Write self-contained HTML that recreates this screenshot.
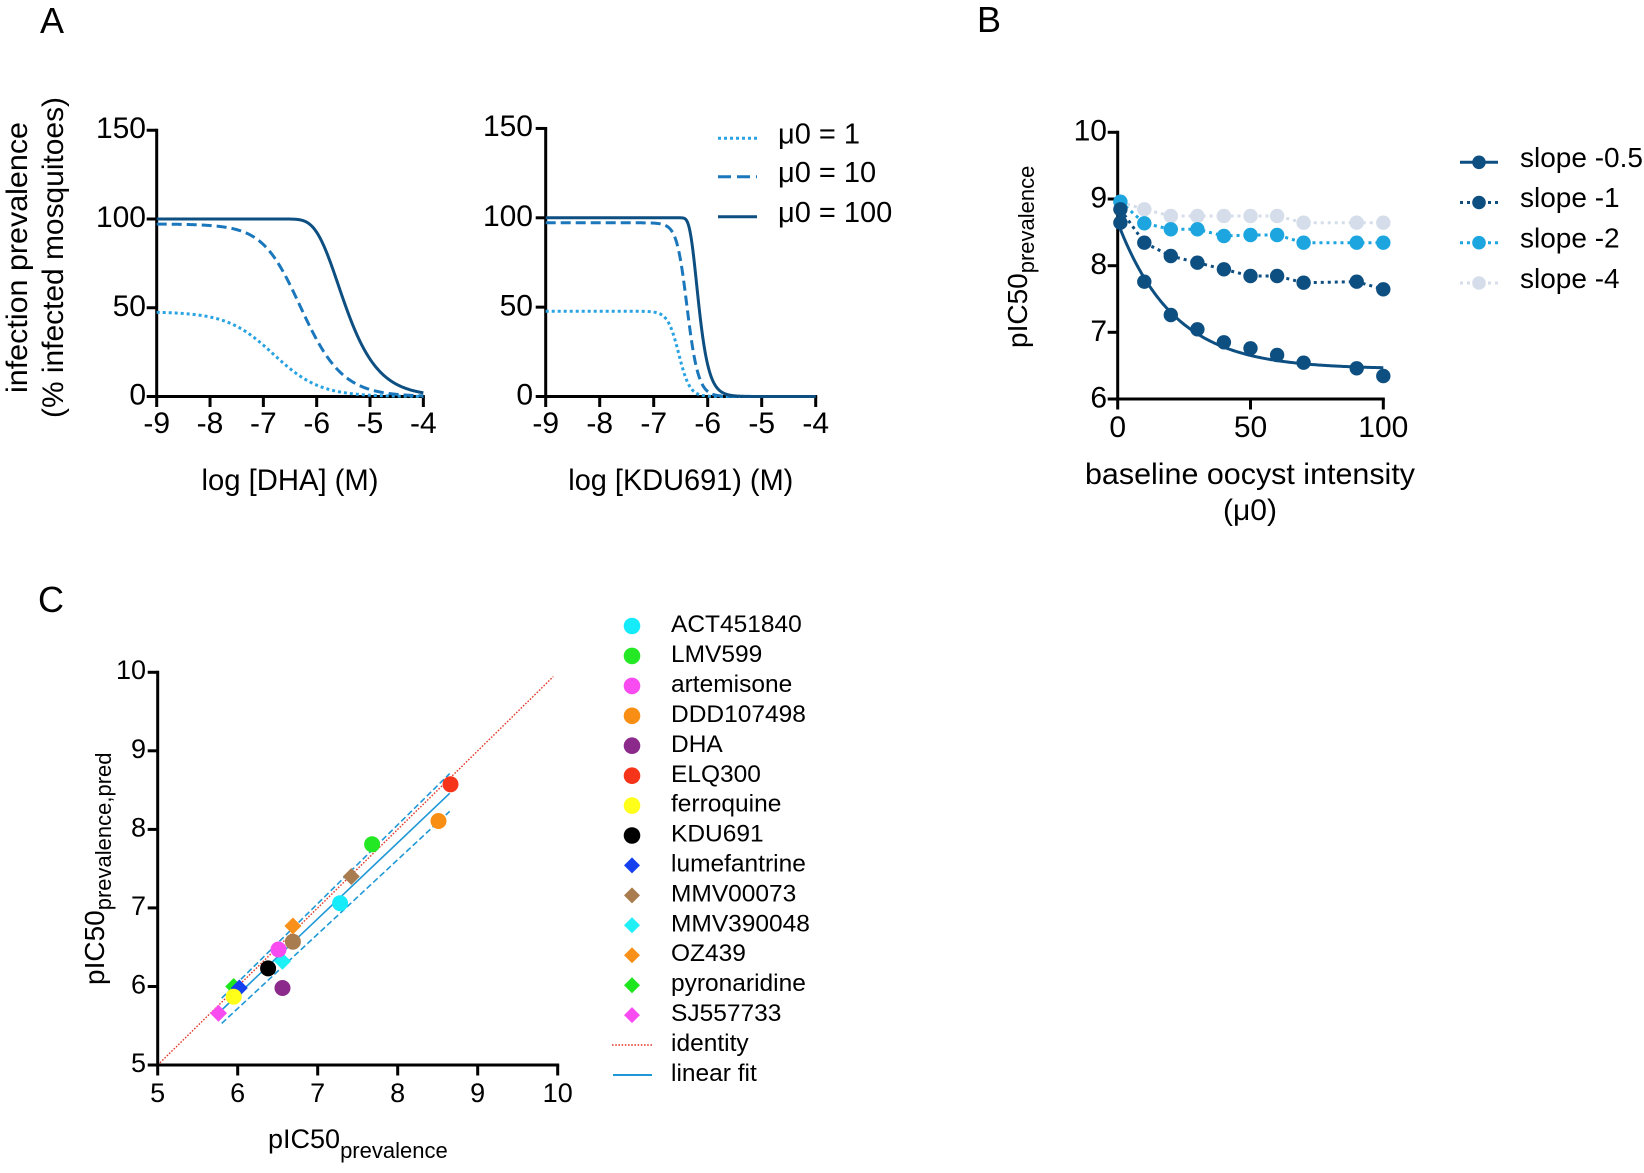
<!DOCTYPE html>
<html>
<head>
<meta charset="utf-8">
<style>
html,body{margin:0;padding:0;background:#fff;}
svg{display:block;}
text{font-family:"Liberation Sans",sans-serif;fill:#000;}
</style>
</head>
<body>
<svg id="fig" width="1644" height="1173" viewBox="0 0 1644 1173" xmlns="http://www.w3.org/2000/svg">
<rect width="1644" height="1173" fill="#fff"/>

<!-- Panel letters -->
<text x="40" y="33" font-size="36">A</text>
<text x="977" y="32" font-size="36">B</text>
<text x="38" y="612" font-size="36">C</text>

<!-- ================= PANEL A LEFT ================= -->
<text transform="translate(27,257.5) rotate(-90)" text-anchor="middle" font-size="30" textLength="271" lengthAdjust="spacingAndGlyphs">infection prevalence</text>
<text transform="translate(63,257.5) rotate(-90)" text-anchor="middle" font-size="30" textLength="321" lengthAdjust="spacingAndGlyphs">(% infected mosquitoes)</text>

<g stroke="#000" stroke-width="3" fill="none">
  <line x1="156.7" y1="128.8" x2="156.7" y2="398"/>
  <line x1="155.2" y1="396.5" x2="424.8" y2="396.5"/>
  <line x1="146.7" y1="130.25" x2="156.7" y2="130.25"/>
  <line x1="146.7" y1="219" x2="156.7" y2="219"/>
  <line x1="146.7" y1="307.75" x2="156.7" y2="307.75"/>
  <line x1="146.7" y1="396.5" x2="156.7" y2="396.5"/>
  <line x1="156.7" y1="396.5" x2="156.7" y2="407"/>
  <line x1="210.03" y1="396.5" x2="210.03" y2="407"/>
  <line x1="263.36" y1="396.5" x2="263.36" y2="407"/>
  <line x1="316.69" y1="396.5" x2="316.69" y2="407"/>
  <line x1="370.02" y1="396.5" x2="370.02" y2="407"/>
  <line x1="423.35" y1="396.5" x2="423.35" y2="407"/>
</g>
<g font-size="30" text-anchor="end">
  <text x="146" y="138">150</text>
  <text x="146" y="227">100</text>
  <text x="146" y="316">50</text>
  <text x="146" y="404.5">0</text>
</g>
<g font-size="30" text-anchor="middle">
  <text x="156.7" y="433">-9</text>
  <text x="210" y="433">-8</text>
  <text x="263.4" y="433">-7</text>
  <text x="316.7" y="433">-6</text>
  <text x="370" y="433">-5</text>
  <text x="423.4" y="433">-4</text>
</g>
<text x="290" y="490" font-size="30" text-anchor="middle" textLength="177" lengthAdjust="spacingAndGlyphs">log [DHA] (M)</text>

<g fill="none" stroke-width="3">
  <path id="dL1" stroke="#2aa3e2" stroke-dasharray="3 3"/>
  <path id="dL2" stroke="#1b77bc" stroke-dasharray="10 5"/>
  <path id="dL3" stroke="#0e4f82"/>
</g>

<!-- ================= PANEL A RIGHT ================= -->
<g stroke="#000" stroke-width="3" fill="none">
  <line x1="545.7" y1="127" x2="545.7" y2="398"/>
  <line x1="544.2" y1="396.5" x2="817.2" y2="396.5"/>
  <line x1="535.7" y1="128.45" x2="545.7" y2="128.45"/>
  <line x1="535.7" y1="217.8" x2="545.7" y2="217.8"/>
  <line x1="535.7" y1="307.15" x2="545.7" y2="307.15"/>
  <line x1="535.7" y1="396.5" x2="545.7" y2="396.5"/>
  <line x1="545.7" y1="396.5" x2="545.7" y2="407"/>
  <line x1="599.7" y1="396.5" x2="599.7" y2="407"/>
  <line x1="653.7" y1="396.5" x2="653.7" y2="407"/>
  <line x1="707.7" y1="396.5" x2="707.7" y2="407"/>
  <line x1="761.7" y1="396.5" x2="761.7" y2="407"/>
  <line x1="815.7" y1="396.5" x2="815.7" y2="407"/>
</g>
<g font-size="30" text-anchor="end">
  <text x="533" y="136">150</text>
  <text x="533" y="226">100</text>
  <text x="533" y="315.5">50</text>
  <text x="533" y="404.5">0</text>
</g>
<g font-size="30" text-anchor="middle">
  <text x="545.7" y="433">-9</text>
  <text x="599.7" y="433">-8</text>
  <text x="653.7" y="433">-7</text>
  <text x="707.7" y="433">-6</text>
  <text x="761.7" y="433">-5</text>
  <text x="815.7" y="433">-4</text>
</g>
<text x="680.8" y="490" font-size="30" text-anchor="middle" textLength="225" lengthAdjust="spacingAndGlyphs">log [KDU691) (M)</text>

<g fill="none" stroke-width="3">
  <path id="dR1" stroke="#2aa3e2" stroke-dasharray="3 3"/>
  <path id="dR2" stroke="#1b77bc" stroke-dasharray="10 5"/>
  <path id="dR3" stroke="#0e4f82"/>
</g>

<!-- Legend A -->
<g fill="none" stroke-width="3">
  <line x1="718" y1="138.3" x2="757" y2="138.3" stroke="#2aa3e2" stroke-dasharray="3 3"/>
  <line x1="718" y1="176.7" x2="757" y2="176.7" stroke="#1b77bc" stroke-dasharray="13 6"/>
  <line x1="718" y1="216.7" x2="757" y2="216.7" stroke="#0e4f82"/>
</g>
<g font-size="29">
  <text x="778" y="143.5">μ0 = 1</text>
  <text x="778" y="182">μ0 = 10</text>
  <text x="778" y="222">μ0 = 100</text>
</g>

<!-- ================= PANEL B ================= -->
<text transform="translate(1027,348) rotate(-90)" font-size="28">pIC50<tspan font-size="22" dy="7">prevalence</tspan></text>
<g stroke="#000" stroke-width="3" fill="none">
  <line x1="1117.7" y1="130.8" x2="1117.7" y2="400.5"/>
  <line x1="1116.2" y1="399" x2="1384.8" y2="399"/>
  <line x1="1107.7" y1="132.3" x2="1117.7" y2="132.3"/>
  <line x1="1107.7" y1="199" x2="1117.7" y2="199"/>
  <line x1="1107.7" y1="265.7" x2="1117.7" y2="265.7"/>
  <line x1="1107.7" y1="332.3" x2="1117.7" y2="332.3"/>
  <line x1="1107.7" y1="399" x2="1117.7" y2="399"/>
  <line x1="1117.7" y1="399" x2="1117.7" y2="409.5"/>
  <line x1="1250.5" y1="399" x2="1250.5" y2="409.5"/>
  <line x1="1383.3" y1="399" x2="1383.3" y2="409.5"/>
</g>
<g font-size="30" text-anchor="end">
  <text x="1107" y="140.5">10</text>
  <text x="1107" y="207.5">9</text>
  <text x="1107" y="274">8</text>
  <text x="1107" y="341">7</text>
  <text x="1107" y="407.5">6</text>
</g>
<g font-size="30" text-anchor="middle">
  <text x="1117.7" y="437">0</text>
  <text x="1250.5" y="437">50</text>
  <text x="1383.3" y="437">100</text>
</g>
<text x="1250" y="484" font-size="30" text-anchor="middle" textLength="330" lengthAdjust="spacingAndGlyphs">baseline oocyst intensity</text>
<text x="1250" y="520" font-size="30" text-anchor="middle">(μ0)</text>

<!-- series slope -4 -->
<g>
  <polyline fill="none" stroke="#d4dde9" stroke-width="3" stroke-dasharray="3 4" points="1120.4,202.3 1144.3,209.3 1170.8,216 1197.4,216 1223.9,216 1250.5,216 1277.1,216 1303.6,222.7 1356.7,222.7 1383.3,222.7"/>
  <g fill="#d4dde9">
    <circle cx="1120.4" cy="202.3" r="7.2"/><circle cx="1144.3" cy="209.3" r="7.2"/><circle cx="1170.8" cy="216" r="7.2"/><circle cx="1197.4" cy="216" r="7.2"/><circle cx="1223.9" cy="216" r="7.2"/><circle cx="1250.5" cy="216" r="7.2"/><circle cx="1277.1" cy="216" r="7.2"/><circle cx="1303.6" cy="222.7" r="7.2"/><circle cx="1356.7" cy="222.7" r="7.2"/><circle cx="1383.3" cy="222.7" r="7.2"/>
  </g>
</g>
<!-- series slope -2 -->
<g>
  <polyline fill="none" stroke="#1ca5df" stroke-width="3" stroke-dasharray="3 4" points="1120.4,201.7 1144.3,223.3 1170.8,229.3 1197.4,229.3 1223.9,236 1250.5,235 1277.1,235 1303.6,242.7 1356.7,242.7 1383.3,242.7"/>
  <g fill="#1ca5df">
    <circle cx="1120.4" cy="201.7" r="7.2"/><circle cx="1144.3" cy="223.3" r="7.2"/><circle cx="1170.8" cy="229.3" r="7.2"/><circle cx="1197.4" cy="229.3" r="7.2"/><circle cx="1223.9" cy="236" r="7.2"/><circle cx="1250.5" cy="235" r="7.2"/><circle cx="1277.1" cy="235" r="7.2"/><circle cx="1303.6" cy="242.7" r="7.2"/><circle cx="1356.7" cy="242.7" r="7.2"/><circle cx="1383.3" cy="242.7" r="7.2"/>
  </g>
</g>
<!-- series slope -1 -->
<g>
  <polyline fill="none" stroke="#0e4f82" stroke-width="3" stroke-dasharray="3 4" points="1120.4,209.3 1144.3,242.7 1170.8,256 1197.4,262.7 1223.9,269.3 1250.5,276 1277.1,276 1303.6,282.7 1356.7,281.7 1383.3,289.3"/>
  <g fill="#0e4f82">
    <circle cx="1120.4" cy="209.3" r="7.2"/><circle cx="1144.3" cy="242.7" r="7.2"/><circle cx="1170.8" cy="256" r="7.2"/><circle cx="1197.4" cy="262.7" r="7.2"/><circle cx="1223.9" cy="269.3" r="7.2"/><circle cx="1250.5" cy="276" r="7.2"/><circle cx="1277.1" cy="276" r="7.2"/><circle cx="1303.6" cy="282.7" r="7.2"/><circle cx="1356.7" cy="281.7" r="7.2"/><circle cx="1383.3" cy="289.3" r="7.2"/>
  </g>
</g>
<!-- series slope -0.5 -->
<g>
  <path id="bFit" fill="none" stroke="#0e4f82" stroke-width="3"/>
  <g fill="#0e4f82">
    <circle cx="1120.4" cy="222.7" r="7.2"/><circle cx="1144.3" cy="281.7" r="7.2"/><circle cx="1170.8" cy="315" r="7.2"/><circle cx="1197.4" cy="329.3" r="7.2"/><circle cx="1223.9" cy="342.3" r="7.2"/><circle cx="1250.5" cy="348.3" r="7.2"/><circle cx="1277.1" cy="355" r="7.2"/><circle cx="1303.6" cy="362.7" r="7.2"/><circle cx="1356.7" cy="368.3" r="7.2"/><circle cx="1383.3" cy="376" r="7.2"/>
  </g>
</g>

<!-- Legend B -->
<g>
  <line x1="1460" y1="162.3" x2="1498" y2="162.3" stroke="#0e4f82" stroke-width="3"/>
  <circle cx="1479" cy="162.3" r="6.8" fill="#0e4f82"/>
  <line x1="1460" y1="202.5" x2="1498" y2="202.5" stroke="#0e4f82" stroke-width="3" stroke-dasharray="3 4"/>
  <circle cx="1479" cy="202.5" r="6.8" fill="#0e4f82"/>
  <line x1="1460" y1="242.7" x2="1498" y2="242.7" stroke="#1ca5df" stroke-width="3" stroke-dasharray="3 4"/>
  <circle cx="1479" cy="242.7" r="6.8" fill="#1ca5df"/>
  <line x1="1460" y1="283" x2="1498" y2="283" stroke="#d4dde9" stroke-width="3" stroke-dasharray="3 4"/>
  <circle cx="1479" cy="283" r="6.8" fill="#d4dde9"/>
</g>
<g font-size="28">
  <text x="1520" y="167">slope -0.5</text>
  <text x="1520" y="207">slope -1</text>
  <text x="1520" y="247.5">slope -2</text>
  <text x="1520" y="288">slope -4</text>
</g>

<!-- ================= PANEL C ================= -->
<text transform="translate(104,985) rotate(-90)" font-size="28">pIC50<tspan font-size="22" dy="7">prevalence,pred</tspan></text>
<text x="268" y="1148" font-size="27">pIC50<tspan font-size="22" dy="10">prevalence</tspan></text>

<!-- lines -->
<line x1="157.7" y1="1065" x2="553.3" y2="676.6" stroke="#e23a2a" stroke-width="1.4" stroke-dasharray="1.6 1.6"/>
<line x1="221.7" y1="1010" x2="449.7" y2="793.3" stroke="#1e98d6" stroke-width="1.6"/>
<line x1="221.7" y1="998.2" x2="449.7" y2="773.6" stroke="#1e98d6" stroke-width="1.6" stroke-dasharray="6 3"/>
<line x1="221.7" y1="1023.4" x2="449.7" y2="811.3" stroke="#1e98d6" stroke-width="1.6" stroke-dasharray="6 3"/>

<g stroke="#000" stroke-width="3" fill="none">
  <line x1="157.7" y1="670.8" x2="157.7" y2="1066.5"/>
  <line x1="156.2" y1="1065" x2="559.2" y2="1065"/>
  <line x1="147.7" y1="672.3" x2="157.7" y2="672.3"/>
  <line x1="147.7" y1="750.8" x2="157.7" y2="750.8"/>
  <line x1="147.7" y1="829.4" x2="157.7" y2="829.4"/>
  <line x1="147.7" y1="907.9" x2="157.7" y2="907.9"/>
  <line x1="147.7" y1="986.5" x2="157.7" y2="986.5"/>
  <line x1="147.7" y1="1065" x2="157.7" y2="1065"/>
  <line x1="157.7" y1="1065" x2="157.7" y2="1075.5"/>
  <line x1="237.7" y1="1065" x2="237.7" y2="1075.5"/>
  <line x1="317.7" y1="1065" x2="317.7" y2="1075.5"/>
  <line x1="397.7" y1="1065" x2="397.7" y2="1075.5"/>
  <line x1="477.7" y1="1065" x2="477.7" y2="1075.5"/>
  <line x1="557.7" y1="1065" x2="557.7" y2="1075.5"/>
</g>
<g font-size="27" text-anchor="end">
  <text x="146" y="679">10</text>
  <text x="146" y="758">9</text>
  <text x="146" y="836.5">8</text>
  <text x="146" y="915">7</text>
  <text x="146" y="993.5">6</text>
  <text x="146" y="1072">5</text>
</g>
<g font-size="27" text-anchor="middle">
  <text x="157.7" y="1102">5</text>
  <text x="237.7" y="1102">6</text>
  <text x="317.7" y="1102">7</text>
  <text x="397.7" y="1102">8</text>
  <text x="477.7" y="1102">9</text>
  <text x="557.7" y="1102">10</text>
</g>

<!-- diamonds -->
<g>
  <path d="M351.3,868 L359.8,876.5 L351.3,885 L342.8,876.5 Z" fill="#a87c4e"/>
  <path d="M292.9,917.5 L301.4,926 L292.9,934.5 L284.4,926 Z" fill="#f8901a"/>
  <path d="M282.5,952.8 L291,961.3 L282.5,969.8 L274,961.3 Z" fill="#1ef0f5"/>
  <path d="M233.7,978 L242.2,986.5 L233.7,995 L225.2,986.5 Z" fill="#1ee61e"/>
  <path d="M239.3,979.5 L247.8,988 L239.3,996.5 L230.8,988 Z" fill="#1440f0"/>
  <path d="M218.5,1004.7 L227,1013.2 L218.5,1021.7 L210,1013.2 Z" fill="#f84cf0"/>
</g>
<!-- circles -->
<g>
  <circle cx="450.5" cy="784.3" r="8" fill="#f5341a"/>
  <circle cx="438.5" cy="821" r="8" fill="#f88e14"/>
  <circle cx="372.1" cy="844.3" r="8" fill="#25e825"/>
  <circle cx="340.1" cy="903.2" r="8" fill="#16ebf9"/>
  <circle cx="292.9" cy="941.7" r="8" fill="#a87c4e"/>
  <circle cx="278.5" cy="949.5" r="8" fill="#f84cf0"/>
  <circle cx="268.1" cy="968.4" r="8" fill="#000"/>
  <circle cx="282.5" cy="988" r="8" fill="#8c2a8c"/>
  <circle cx="233.7" cy="996.7" r="8" fill="#ffff1a"/>
</g>

<!-- Legend C -->
<g>
  <circle cx="632" cy="626" r="8.3" fill="#16ebf9"/>
  <circle cx="632" cy="655.9" r="8.3" fill="#25e825"/>
  <circle cx="632" cy="685.9" r="8.3" fill="#f84cf0"/>
  <circle cx="632" cy="715.8" r="8.3" fill="#f88e14"/>
  <circle cx="632" cy="745.7" r="8.3" fill="#8c2a8c"/>
  <circle cx="632" cy="775.7" r="8.3" fill="#f5341a"/>
  <circle cx="632" cy="805.6" r="8.3" fill="#ffff1a"/>
  <circle cx="632" cy="835.5" r="8.3" fill="#000"/>
  <path d="M632,857.4 L640,865.4 L632,873.4 L624,865.4 Z" fill="#1440f0"/>
  <path d="M632,887.4 L640,895.4 L632,903.4 L624,895.4 Z" fill="#a87c4e"/>
  <path d="M632,917.3 L640,925.3 L632,933.3 L624,925.3 Z" fill="#1ef0f5"/>
  <path d="M632,947.2 L640,955.2 L632,963.2 L624,955.2 Z" fill="#f8901a"/>
  <path d="M632,977.2 L640,985.2 L632,993.2 L624,985.2 Z" fill="#1ee61e"/>
  <path d="M632,1007.1 L640,1015.1 L632,1023.1 L624,1015.1 Z" fill="#f84cf0"/>
  <line x1="612" y1="1045" x2="652" y2="1045" stroke="#e23a2a" stroke-width="1.4" stroke-dasharray="1.6 1.6"/>
  <line x1="613" y1="1075" x2="652" y2="1075" stroke="#1e98d6" stroke-width="2"/>
</g>
<g font-size="24.5">
  <text x="671" y="632">ACT451840</text>
  <text x="671" y="662">LMV599</text>
  <text x="671" y="692">artemisone</text>
  <text x="671" y="722">DDD107498</text>
  <text x="671" y="752">DHA</text>
  <text x="671" y="782">ELQ300</text>
  <text x="671" y="811.5">ferroquine</text>
  <text x="671" y="841.5">KDU691</text>
  <text x="671" y="871.5">lumefantrine</text>
  <text x="671" y="901.5">MMV00073</text>
  <text x="671" y="931.5">MMV390048</text>
  <text x="671" y="961">OZ439</text>
  <text x="671" y="991">pyronaridine</text>
  <text x="671" y="1021">SJ557733</text>
  <text x="671" y="1051">identity</text>
  <text x="671" y="1081">linear fit</text>
</g>
</svg>
<script>
(function(){
  function nb(mu,k){return k===0?1-Math.exp(-mu):1-Math.pow(1+mu/k,-k);}
  function mk(X,Y,mu0,k,c,h){
    var d='';
    for(var i=0;i<=600;i++){
      var x=-9+5*i/600;
      var g=1/(1+Math.pow(10,h*(x-c)));
      var p=100*nb(mu0*g,k);
      d+=(i?'L':'M')+X(x).toFixed(2)+','+Y(p).toFixed(2);
    }
    return d;
  }
  var XL=function(x){return 156.7+(x+9)*53.33;};
  var YL=function(p){return 396.5-p*1.775;};
  var XR=function(x){return 545.7+(x+9)*54;};
  var YR=function(p){return 396.5-p*1.787;};
  document.getElementById('dL1').setAttribute('d',mk(XL,YL,1,0.8,-7.13,1.0));
  document.getElementById('dL2').setAttribute('d',mk(XL,YL,10,2,-7.30,1.04));
  document.getElementById('dL3').setAttribute('d',mk(XL,YL,100,0,-7.5,1.05));
  document.getElementById('dR1').setAttribute('d',mk(XR,YR,1,0.8,-6.61,4.3));
  document.getElementById('dR2').setAttribute('d',mk(XR,YR,10,2,-6.65,3.9));
  document.getElementById('dR3').setAttribute('d',mk(XR,YR,100,0,-6.785,3.45));
  var d='';
  for(var i=0;i<=200;i++){
    var v=i*0.5;
    var y=6.45+2.2*Math.exp(-v/21);
    d+=(i?'L':'M')+(1117.7+v*2.656).toFixed(2)+','+(399-(y-6)*66.67).toFixed(2);
  }
  document.getElementById('bFit').setAttribute('d',d);
})();
</script>
</body>
</html>
